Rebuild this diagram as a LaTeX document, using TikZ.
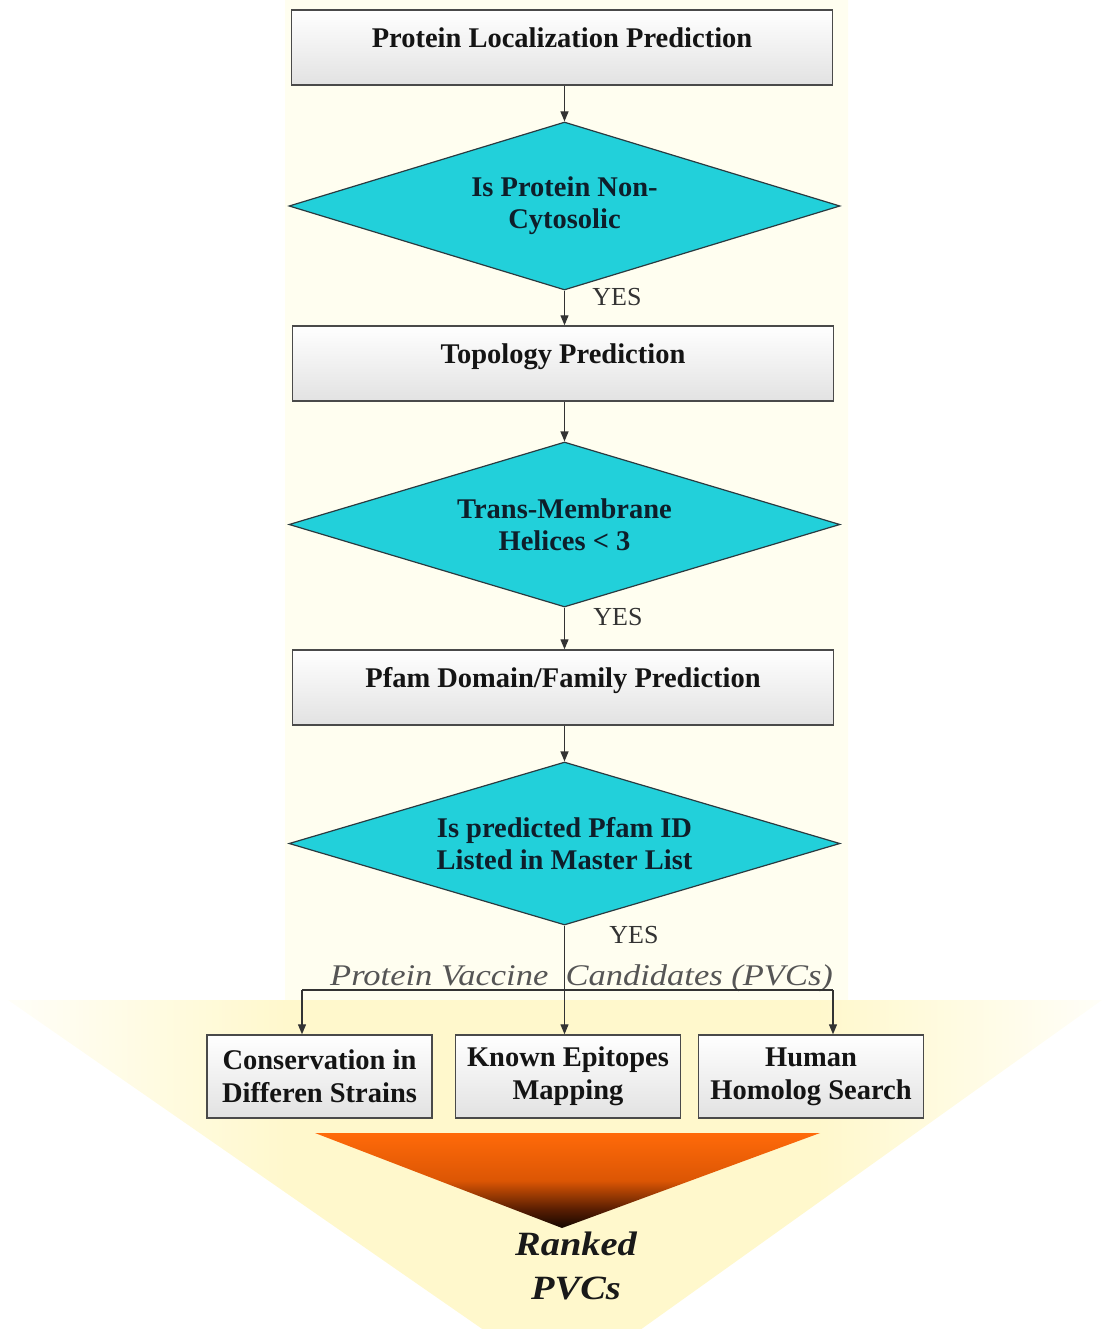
\documentclass[tikz,border=0pt]{standalone}
\usepackage{fontspec}
\setmainfont{Liberation Serif}
\newfontfamily\wideserif[FakeStretch=1.15]{Liberation Serif}
\newfontfamily\rankserif[FakeStretch=1.13]{Liberation Serif}
\usetikzlibrary{arrows.meta,shapes.geometric}

\definecolor{boxline}{HTML}{4A4A4A}
\definecolor{boxgrey}{HTML}{E2E2E2}
\definecolor{cyanfill}{HTML}{22D0DA}
\definecolor{diamondline}{HTML}{2A3A40}
\definecolor{decisiontext}{HTML}{0E1E2A}
\definecolor{flowline}{HTML}{333333}
\definecolor{shaftmid}{HTML}{FFFAD6}
\definecolor{shaftedge}{HTML}{FFFEF0}
\definecolor{fanmid}{HTML}{FFF8CC}
\definecolor{fanedge}{HTML}{FFFEF8}
\definecolor{orangetop}{HTML}{FF6A0A}
\definecolor{orangemid}{HTML}{DC5604}
\definecolor{orangedark}{HTML}{5A1E02}
\definecolor{orangetip}{HTML}{140600}
\definecolor{pvcgrey}{HTML}{555555}

% backdrop head: yellow across the middle, fading out at both corners
\pgfdeclarehorizontalshading{fanshade}{100bp}{color(0bp)=(fanedge); color(25bp)=(fanedge);
  color(38bp)=(fanmid); color(62bp)=(fanmid); color(75bp)=(fanedge); color(100bp)=(fanedge)}
% funnel: orange that burns down to near black at the tip
\pgfdeclareverticalshading{funnelshade}{100bp}{color(0bp)=(orangetip); color(25bp)=(orangetip);
  color(35bp)=(orangedark); color(50bp)=(orangemid); color(75bp)=(orangetop); color(100bp)=(orangetop)}

\begin{document}
\begin{tikzpicture}[x=1pt,y=1pt,
  stepbox/.style={draw=boxline, line width=1.4pt, top color=white, bottom color=boxgrey,
    minimum width=541pt, minimum height=75pt, inner sep=0pt,
    font=\fontsize{28.5}{32}\selectfont\bfseries, text=black!92,
    text height=19pt, text depth=19pt},
  decision/.style={diamond, shape aspect=3.3, draw=diamondline, line width=1.2pt, fill=cyanfill,
    minimum width=551pt, inner sep=0pt, align=center,
    font=\fontsize{28.5}{32}\selectfont\bfseries, text=decisiontext},
  leafbox/.style={draw=boxline, line width=1.4pt, top color=white, bottom color=boxgrey,
    minimum width=225pt, minimum height=83pt, inner sep=0pt, align=center,
    font=\fontsize{28.5}{33}\selectfont\bfseries, text=black!92},
  yesmark/.style={font=\fontsize{26}{26}\selectfont, text=black!80, inner sep=0pt},
  flow/.style={draw=flowline, line width=1.2pt, -{Triangle[length=10pt,width=8pt]}},
  plainflow/.style={draw=flowline, line width=1.2pt}
]
\useasboundingbox (0,0) rectangle (1107,-1329);
\clip (0,0) rectangle (1107,-1329);

% pale backdrop: a wide arrow, shaft and head
\fill[left color=shaftedge, middle color=shaftmid, right color=shaftedge]
  (285,0) rectangle (848,-1003);
\shade[shading=fanshade]
  (8,-1000) -- (1102,-1000) -- (563,-1385) -- cycle;

% main column
\node[stepbox] (loc) at (562,-47.5) {Protein Localization Prediction};
\node[decision, minimum height=168pt] (cyto) at (564.5,-206) {Is Protein Non-\\Cytosolic};
\node[stepbox] (topo) at (563,-363.5) {Topology Prediction};
\node[decision, minimum height=165pt] (tm) at (564.5,-524.5) {Trans-Membrane\\Helices < 3};
\node[stepbox] (pfam) at (563,-687.5) {Pfam Domain/Family Prediction};
\node[decision, minimum height=163pt] (master) at (564.5,-843.5) {Is predicted Pfam ID\\Listed in Master List};

\node[yesmark] (yes1) at (617,-297) {YES};
\node[yesmark] (yes2) at (618,-617) {YES};
\node[yesmark] (yes3) at (634,-935) {YES};

\draw[flow] (cyto.north |- loc.south) -- (cyto.north);
\draw[flow] (cyto.south) -- (cyto.south |- topo.north);
\draw[flow] (tm.north |- topo.south) -- (tm.north);
\draw[flow] (tm.south) -- (tm.south |- pfam.north);
\draw[flow] (master.north |- pfam.south) -- (master.north);

% three follow-up analyses
\node[leafbox] (cons) at (319.5,-1076.5) {Conservation in\\Differen Strains};
\node[leafbox] (epi) at (568,-1076.5) {Known Epitopes\\Mapping};
\node[leafbox] (homo) at (811,-1076.5) {Human\\Homolog Search};

\node[anchor=base west, inner sep=0pt, text=pvcgrey,
  font=\fontsize{30}{30}\selectfont\wideserif\itshape] (pvc) at (330,-985)
  {Protein Vaccine\ \ Candidates (PVCs)};

\coordinate (splitL) at (302,-990);
\coordinate (splitR) at (833,-990);
\draw[plainflow] (splitL) -- (splitR);
\draw[flow] (master.south) -- (master.south |- epi.north);
\draw[flow] (splitL) -- (splitL |- cons.north);
\draw[flow] (splitR) -- (splitR |- homo.north);

% ranking funnel
\shade[shading=funnelshade]
  (315,-1133) -- (820,-1133) -- (562,-1228) -- cycle;
\node[align=center, inner sep=0pt, text=black!90,
  font=\fontsize{34}{44}\selectfont\rankserif\bfseries\itshape] (ranked) at (576,-1266)
  {Ranked\\PVCs};
\end{tikzpicture}
\end{document}
